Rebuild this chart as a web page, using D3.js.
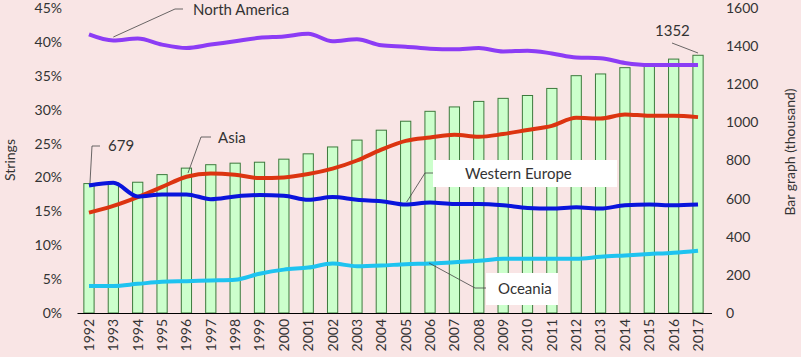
<!DOCTYPE html>
<meta charset="utf-8">
<style>
body {margin:0; background:#f9e5e5;}
text {font-family:Lato, 'Open Sans', sans-serif; fill:#333;}
.tick text {font-size:14px; fill:#333;}
</style>
<script src="https://d3js.org/d3.v7.min.js"></script>
<svg id="chart"></svg>
<script>
var years = d3.range(1992, 2018).map(String);
var bars = [679,682,686,726,760,778,786,791,807,835,871,907,959,1006,1058,1081,1110,1126,1141,1178,1245,1254,1287,1305,1332,1352];
var northAmerica = [41.1,40.2,40.5,39.6,39.1,39.6,40.1,40.6,40.8,41.2,40.1,40.4,39.5,39.3,39.0,38.9,39.1,38.6,38.7,38.3,37.7,37.6,36.9,36.6,36.6,36.6];
var asia = [14.8,15.8,17.1,18.6,20.1,20.6,20.4,19.9,20.0,20.5,21.3,22.5,24.1,25.4,25.9,26.3,26.0,26.4,27.0,27.6,28.8,28.7,29.3,29.1,29.1,28.9];
var westernEurope = [18.8,19.2,17.2,17.5,17.5,16.8,17.2,17.4,17.3,16.7,17.1,16.7,16.5,16.0,16.3,16.1,16.1,15.9,15.5,15.4,15.6,15.4,15.9,16.0,15.9,16.0];
var oceania = [4.0,4.0,4.3,4.6,4.7,4.8,4.9,5.8,6.4,6.7,7.3,6.9,7.0,7.2,7.3,7.5,7.7,8.0,8.0,8.0,8.0,8.3,8.5,8.7,8.9,9.2];
var pctTicks = [0,5,10,15,20,25,30,35,40,45];
var barTicks = [0,200,400,600,800,1000,1200,1400,1600];

var W=801, H=357;
var svg=d3.select('#chart').attr('width',W).attr('height',H);
svg.append('rect').attr('width',W).attr('height',H).attr('fill','#f9e5e5');

var x=d3.scaleBand().domain(years).range([76.8,710.2]).paddingInner(0.58).paddingOuter(0.29);
var yL=d3.scaleLinear().domain([0,45]).range([313,8]);
var yR=d3.scaleLinear().domain([0,1600]).range([313,8]);
var cx=function(i){return x(years[i])+x.bandwidth()/2;};

// left axis
svg.append('g').attr('transform','translate(66,0)')
   .call(d3.axisLeft(yL).tickValues(pctTicks).tickSize(0).tickPadding(4).tickFormat(function(d){return d+'%';}))
   .call(function(g){g.select('.domain').remove();});
// right axis
svg.append('g').attr('transform','translate(722,0)')
   .call(d3.axisRight(yR).tickValues(barTicks).tickSize(0).tickPadding(4).tickFormat(d3.format('d')))
   .call(function(g){g.select('.domain').remove();});

// bars
svg.append('g').selectAll('rect').data(bars).enter().append('rect')
   .attr('x',function(d,i){return x(years[i]);})
   .attr('y',function(d){return yR(d);})
   .attr('width',x.bandwidth())
   .attr('height',function(d){return yR(0)-yR(d);})
   .attr('fill','#ccffcc').attr('stroke','#3d7a3d').attr('stroke-width',1);

// x axis
var xa=svg.append('g').attr('transform','translate(0,313)')
   .call(d3.axisBottom(x).tickSize(0).tickPadding(0));
xa.select('.domain').attr('stroke','#000').attr('stroke-width',1.2)
  .attr('d','M77.5,0.5H712');
xa.selectAll('.tick text').attr('transform','rotate(-90)').attr('text-anchor','end')
  .attr('x',-6).attr('y',0).attr('dy','0.35em');

// label boxes
svg.append('rect').attr('x',433).attr('y',160).attr('width',184).attr('height',27).attr('fill','#fff');
svg.append('rect').attr('x',486).attr('y',273).attr('width',72).attr('height',32).attr('fill','#fff');

// lines
var line=d3.line().curve(d3.curveMonotoneX)
   .x(function(d,i){return cx(i);}).y(function(d){return yL(d);});
var series=[[northAmerica,'#8c3cf5'],[asia,'#dc3410'],[westernEurope,'#0a14dc'],[oceania,'#1ec3f0']];
series.forEach(function(s){
  svg.append('path').datum(s[0]).attr('d',line).attr('fill','none')
     .attr('stroke',s[1]).attr('stroke-width',4).attr('stroke-linejoin','round');
});

// leader lines and labels
var lead=function(pts){svg.append('polyline').attr('points',pts.join(' '))
   .attr('fill','none').attr('stroke','#444').attr('stroke-width',0.8);};
lead([[cx(1),37],[175,9],[183,9]]);
lead([[cx(0)+1,183],[92,146],[100,146]]);
lead([[188,173],[201,137],[211,137]]);
lead([[cx(13)+1,202],[425,173],[433,173]]);
lead([[cx(14)-1,263],[475,288],[486,288]]);
lead([[672,43],[cx(25),53]]);
var label=function(t,px,py){svg.append('text').attr('x',px).attr('y',py).attr('dy','0.35em')
   .style('font-size','15px').text(t);};
label('North America',193,10);
label(String(bars[0]),108,146);
label('Asia',218,138);
label('Western Europe',465,174);
label('Oceania',498,289);
label(String(bars[25]),655,31);

// axis titles
svg.append('text').attr('transform','translate(15,160) rotate(-90)').attr('text-anchor','middle')
   .style('font-size','14px').text('Strings');
svg.append('text').attr('transform','translate(795,152) rotate(-90)').attr('text-anchor','middle')
   .style('font-size','14px').text('Bar graph (thousand)');
</script>
